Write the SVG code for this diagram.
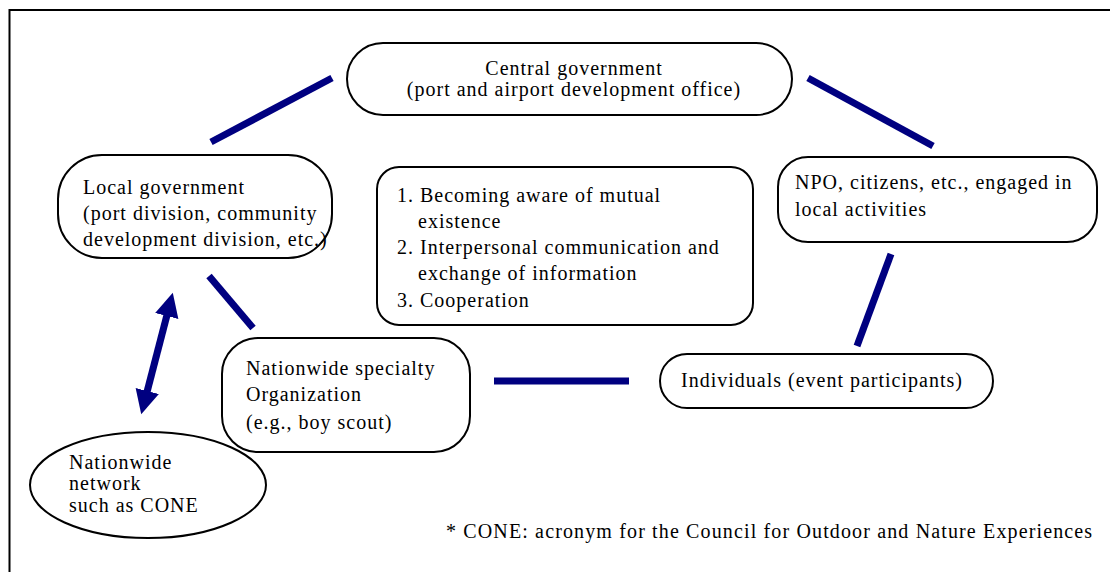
<svg xmlns="http://www.w3.org/2000/svg" width="1110" height="572" viewBox="0 0 1110 572">
<style>
  .box { fill: #fff; stroke: #000; stroke-width: 2; }
  .t { font-family: "Liberation Serif", "Times New Roman", serif; font-size: 20px; letter-spacing: 1px; fill: #000; }
  .c { stroke: #000080; stroke-width: 7; fill: none; }
</style>
<defs>
  <marker id="ah" markerUnits="userSpaceOnUse" markerWidth="26" markerHeight="26" viewBox="0 -13 26 26" refX="1" refY="0" orient="auto-start-reverse">
    <path d="M0,-12 L24,0 L0,12 z" fill="#000080"/>
  </marker>
</defs>
<rect x="0" y="0" width="1110" height="572" fill="#fff"/>
<path d="M9.5,572 V10 H1110" fill="none" stroke="#000" stroke-width="2"/>

<g id="connectors">
  <line class="c" x1="211" y1="142" x2="332" y2="78"/>
  <line class="c" x1="808" y1="78" x2="933" y2="146"/>
  <line class="c" x1="209" y1="276" x2="253" y2="328"/>
  <line class="c" x1="494" y1="381" x2="629" y2="381"/>
  <line class="c" x1="891" y1="254" x2="857" y2="346"/>
  <line class="c" x1="147" y1="392" x2="167" y2="315" marker-start="url(#ah)" marker-end="url(#ah)"/>
</g>

<g id="central">
  <rect class="box" x="347" y="43" width="445" height="72" rx="36"/>
  <text class="t" x="574" y="75" text-anchor="middle">Central government</text>
  <text class="t" x="574" y="96" text-anchor="middle">(port and airport development office)</text>
</g>

<g id="local">
  <rect class="box" x="58" y="155" width="274" height="103" rx="44"/>
  <text class="t" x="83" y="194">Local government</text>
  <text class="t" x="83" y="220">(port division, community</text>
  <text class="t" x="83" y="246">development division, etc.)</text>
</g>

<g id="list">
  <rect class="box" x="377" y="167" width="376" height="158" rx="22"/>
  <text class="t" x="397" y="202">1. Becoming aware of mutual</text>
  <text class="t" x="418" y="228">existence</text>
  <text class="t" x="397" y="254">2. Interpersonal communication and</text>
  <text class="t" x="418" y="280">exchange of information</text>
  <text class="t" x="397" y="307">3. Cooperation</text>
</g>

<g id="npo">
  <rect class="box" x="778" y="157" width="319" height="85" rx="30"/>
  <text class="t" x="795" y="189">NPO, citizens, etc., engaged in</text>
  <text class="t" x="795" y="216">local activities</text>
</g>

<g id="specialty">
  <rect class="box" x="222" y="338" width="248" height="114" rx="36"/>
  <text class="t" x="246" y="375">Nationwide specialty</text>
  <text class="t" x="246" y="401">Organization</text>
  <text class="t" x="246" y="429">(e.g., boy scout)</text>
</g>

<g id="individuals">
  <rect class="box" x="660" y="354" width="333" height="54" rx="27"/>
  <text class="t" x="681" y="387">Individuals (event participants)</text>
</g>

<g id="network">
  <ellipse class="box" cx="148" cy="485" rx="118" ry="53"/>
  <text class="t" x="69" y="469">Nationwide</text>
  <text class="t" x="69" y="490">network</text>
  <text class="t" x="69" y="512">such as CONE</text>
</g>

<text class="t" x="446" y="538" style="letter-spacing:1.14px">* CONE: acronym for the Council for Outdoor and Nature Experiences</text>
</svg>
